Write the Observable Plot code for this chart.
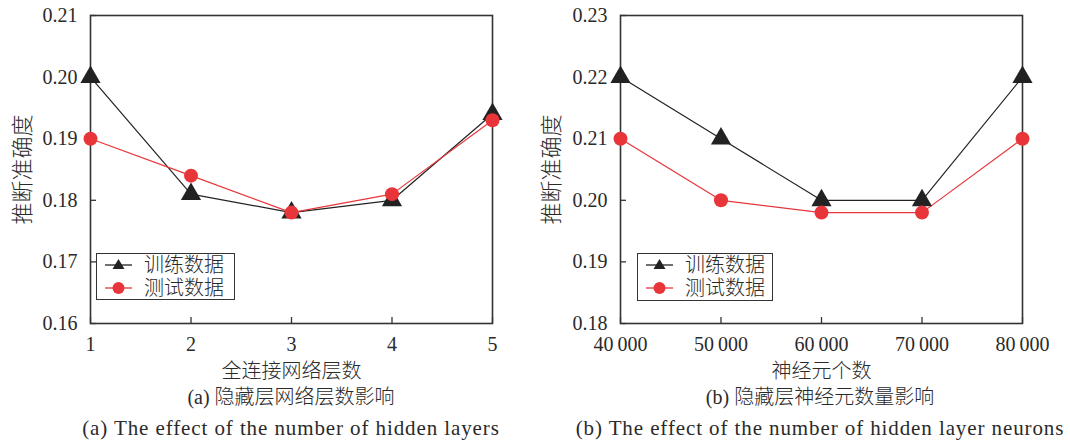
<!DOCTYPE html>
<html>
<head>
<meta charset="utf-8">
<script src="https://cdn.jsdelivr.net/npm/d3@7"></script>
<script src="https://cdn.jsdelivr.net/npm/@observablehq/plot@0.6"></script>
<style>
  html, body { margin: 0; padding: 0; background: #fff; }
  #root { position: relative; width: 1070px; height: 441px; overflow: hidden; font-family: "Liberation Serif", "Noto Sans CJK SC", serif; color: #2a2a2a; }
  .panel { position: absolute; top: 0; }
  .cap { position: absolute; white-space: nowrap; transform: translate(-50%, -50%); font-size: 20px; line-height: 22px; height: 22px; }
  .cap.zh .cjk { font-weight: 300; }
  .cap.en { font-size: 21px; letter-spacing: 0.9px; }
  .legend { position: absolute; border: 1.5px solid #333; box-sizing: border-box; background: #fff; }
  .legend .row { position: absolute; left: 0; height: 20px; display: flex; align-items: center; overflow: visible; }
  .legend .row span { display: inline-block; height: 20px; overflow: visible; font-family: "Liberation Serif", "Noto Sans CJK SC", serif; font-weight: 300; font-size: 20px; line-height: 20px; }
  g[aria-label="x-axis label"] text { font-family: "Liberation Serif", "Noto Sans CJK SC", serif; font-weight: 300; font-size: 20px; }
  g[aria-label="y-axis label"] text { font-family: "Liberation Serif", "Noto Sans CJK SC", serif; font-weight: 300; font-size: 22px; }
</style>
</head>
<body>
<div id="root"></div>
<script>
// ---- data ----
const layersX = [1, 2, 3, 4, 5];
const layersTrain = [0.200, 0.181, 0.178, 0.180, 0.194];
const layersTest = [0.190, 0.184, 0.178, 0.181, 0.193];
const layersYTicks = [0.16, 0.17, 0.18, 0.19, 0.20, 0.21];

const neuronsX = [40000, 50000, 60000, 70000, 80000];
const neuronsTrain = [0.220, 0.210, 0.200, 0.200, 0.220];
const neuronsTest = [0.210, 0.200, 0.198, 0.198, 0.210];
const neuronsYTicks = [0.18, 0.19, 0.20, 0.21, 0.22, 0.23];

const seriesNames = ["训练数据", "测试数据"];
const yLabel = "推断准确度";
const xLabels = ["全连接网络层数", "神经元个数"];
const capsZhPrefix = ["(a) ", "(b) "];
const capsZh = ["隐藏层网络层数影响", "隐藏层神经元数量影响"];
const capsEn = ["(a) The effect of the number of hidden layers", "(b) The effect of the number of hidden layer neurons"];

const BLACK = "#222222";
const RED = "#e8353a";
const H = 380, MT = 15, MB = 57;
const innerH = H - MT - MB;

function panel({xs, train, test, yTicks, xFormat, xLabel, left, width, mL, mR, yLabelOffset}) {
  const innerW = width - mL - mR;
  const rows = xs.flatMap((x, i) => [
    {x, y: train[i], s: seriesNames[0]},
    {x, y: test[i], s: seriesNames[1]}
  ]);
  const trainRows = rows.filter(d => d.s === seriesNames[0]);
  const testRows = rows.filter(d => d.s === seriesNames[1]);
  const chart = Plot.plot({
    width, height: H,
    marginTop: MT, marginBottom: MB, marginLeft: mL, marginRight: mR,
    style: {fontFamily: "'Liberation Serif', 'Noto Sans CJK SC', serif", fontSize: "20px", color: "#2a2a2a", background: "transparent", overflow: "visible"},
    x: {domain: [xs[0], xs[xs.length - 1]]},
    y: {domain: [yTicks[0], yTicks[yTicks.length - 1]]},
    marks: [
      Plot.tickX(xs, {x: d => d, insetTop: innerH - 6, stroke: "#333", strokeWidth: 1.3}),
      Plot.tickY(yTicks, {y: d => d, insetRight: innerW - 6, stroke: "#333", strokeWidth: 1.3}),
      Plot.axisX({ticks: xs, tickFormat: xFormat, tickSize: 0, tickPadding: 13, label: xLabel, labelAnchor: "center", labelArrow: "none", labelOffset: 54}),
      Plot.axisY({ticks: yTicks, tickFormat: d3.format(".2f"), tickSize: 0, tickPadding: 13, label: yLabel, labelAnchor: "center", labelArrow: "none", labelOffset: yLabelOffset}),
      Plot.line(trainRows, {x: "x", y: "y", stroke: BLACK, strokeWidth: 1.2}),
      Plot.line(testRows, {x: "x", y: "y", stroke: RED, strokeWidth: 1.2}),
      Plot.frame({stroke: "#333", strokeWidth: 1.6}),
      Plot.dot(trainRows, {x: "x", y: "y", symbol: "triangle", r: 7.5, fill: BLACK, stroke: "none"}),
      Plot.dot(testRows, {x: "x", y: "y", symbol: "circle", r: 7, fill: RED, stroke: "none"})
    ]
  });
  chart.classList.add("panel");
  chart.style.left = left + "px";
  return chart;
}

function legend({left, top, w, h}) {
  const el = document.createElement("div");
  el.className = "legend";
  Object.assign(el.style, {left: left + "px", top: top + "px", width: w + "px", height: h + "px"});
  const items = [
    {color: BLACK, marker: `<path d="M13.5,4 L19.5,14 L7.5,14 Z" fill="${BLACK}"/>`},
    {color: RED, marker: `<circle cx="13.5" cy="10" r="6" fill="${RED}"/>`}
  ];
  items.forEach((it, i) => {
    const row = document.createElement("div");
    row.className = "row";
    row.style.top = (i === 0 ? 1 : 24) + "px";
    row.style.left = "8px";
    row.innerHTML = `<svg width="28" height="20" style="display:block"><line x1="0" x2="27" y1="10" y2="10" stroke="${it.color}" stroke-width="1.3"/>${it.marker}</svg><span style="margin-left:11px">${seriesNames[i]}</span>`;
    el.appendChild(row);
  });
  return el;
}

function cap(html, x, y, cls) {
  const el = document.createElement("div");
  el.className = "cap " + cls;
  el.innerHTML = html;
  el.style.left = x + "px";
  el.style.top = y + "px";
  return el;
}

const root = document.getElementById("root");
const fmtNeurons = d => d3.format(",")(d).replace(",", "\u2009");

root.appendChild(panel({xs: layersX, train: layersTrain, test: layersTest, yTicks: layersYTicks,
  xFormat: d3.format("d"), xLabel: xLabels[0], left: 0, width: 535, mL: 90, mR: 43, yLabelOffset: 76}));
root.appendChild(panel({xs: neuronsX, train: neuronsTrain, test: neuronsTest, yTicks: neuronsYTicks,
  xFormat: fmtNeurons, xLabel: xLabels[1], left: 530, width: 540, mL: 90, mR: 48, yLabelOffset: 77}));

root.appendChild(legend({left: 96, top: 253, w: 139, h: 47}));
root.appendChild(legend({left: 637, top: 253, w: 136, h: 48}));

root.appendChild(cap(`${capsZhPrefix[0]}<span class="cjk">${capsZh[0]}</span>`, 291, 397, "zh"));
root.appendChild(cap(capsEn[0], 291, 428, "en"));
root.appendChild(cap(`${capsZhPrefix[1]}<span class="cjk">${capsZh[1]}</span>`, 820, 397, "zh"));
root.appendChild(cap(capsEn[1], 820, 428, "en"));
</script>
</body>
</html>
